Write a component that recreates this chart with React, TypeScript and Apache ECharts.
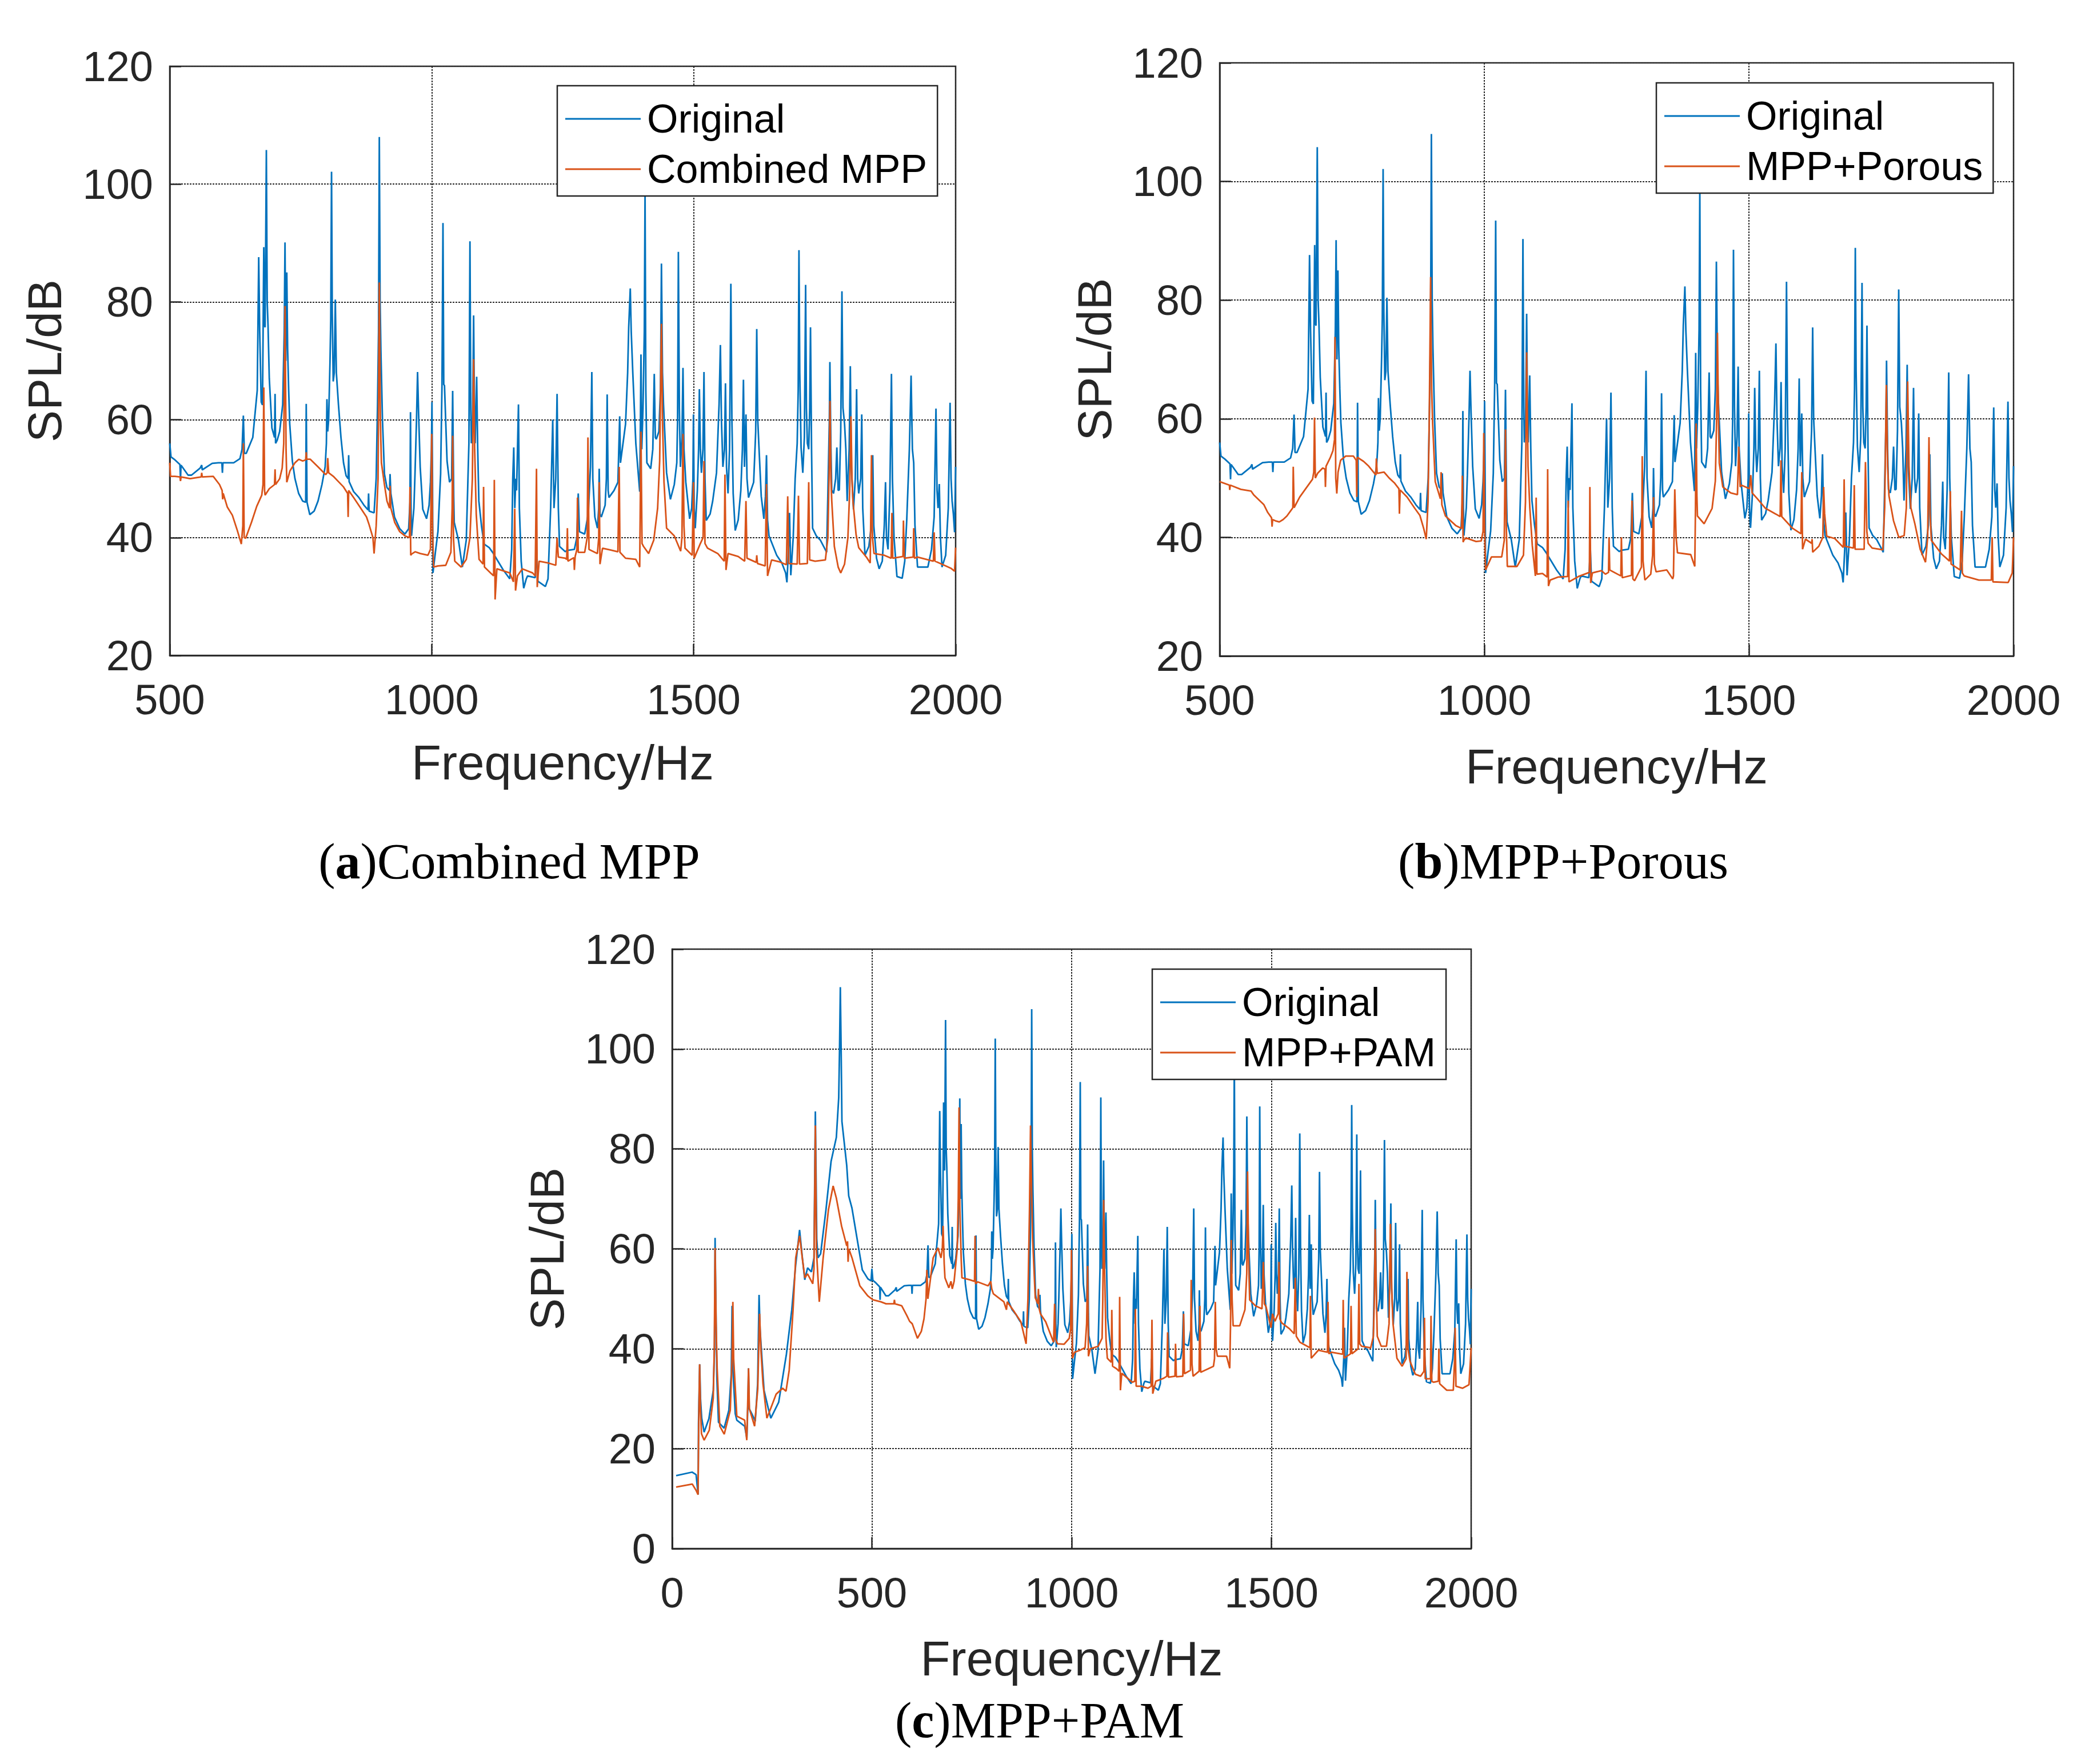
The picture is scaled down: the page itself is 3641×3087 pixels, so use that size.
import React, { useEffect, useRef } from 'react';
import * as echarts from 'echarts';

// ---------------- DATA (frequency Hz, SPL dB) ----------------
const ORIGINAL: [number, number][] = [
  [10,14.6],[50,15.3],[60,14.8],[65,10.8],[66,25],[67,29.3],[69,36.9],[71,30],[74,26.1],[80,23.3],[92,26],[103,31.7],[106,40],[107.5,62.2],[109,52],[112,34],[116,25.3],[130,24.1],[142,27.7],[148,35],[150,48.6],[152,36],[158,27],[162,25.7],[181.5,24.5],[187,22.1],[190,30],[191,36.1],[193,28],[200,26.9],[208,25.5],[214,33],[217.6,50.8],[220,44],[230,31.7],[240.5,28.1],[247,26.1],[266.7,29.3],[286,38.9],[299.5,47.8],[309,56.6],[319,63.8],[326,58.2],[332,53.8],[339,56.2],[348.6,55.4],[355,58.2],[358.5,87.5],[362,62],[365,58.2],[371.6,59],[385,67.8],[397.8,77.5],[411,82.3],[417,90.3],[419,100],[421,112.4],[423,100],[425,85.5],[437,76.7],[442,70.6],[450,68.2],[463,62],[476,55.8],[490,54],[498,53.6],
  [500,56],[502.4,53.7],[509.8,53.2],[519.5,52.4],[520.5,49.8],[521.5,52.3],[535,50.6],[541.5,50.6],[558,51.8],[561,52.3],[562,51.5],[581,52.6],[592.7,52.7],[599.5,52.7],[600.5,51],[601.5,52.7],[622,52.7],[634,53.4],[638,55],[640.5,60.7],[642.4,54.3],[646,54.3],[658.5,57],[667,65],[669.8,87.6],[671.7,75],[674.6,63],[677,62.5],[679.5,89.3],[681,76],[682,75.7],[684.4,105.8],[686,80],[687.6,76],[690,67],[695,58.6],[700,57],[701,64.4],[702,56],[705,56.5],[709.8,58],[715.6,62.6],[718.5,75],[720,90.1],[721.5,70],[723.4,85],[725,72],[727,65],[729,59.3],[734,53],[739,50],[746,47.5],[753.7,46.2],[759.5,46],[760.5,62.7],[762,46],[767.3,43.9],[775.6,44.5],[783,46.2],[790.5,49],[796.6,52],[799,56],[800,63.5],[801.5,58],[803.3,60],[805.9,70],[807.3,77],[808.8,102.1],[810.2,78],[812,66.5],[814,68],[816,80.4],[818,68],[822,62.6],[826.8,57],[831.7,52.7],[836.6,50.5],[840.5,50],[841.5,54],[842.4,49.5],[851,47.8],[861,46.8],[870.7,45.5],[878.5,44.7],[879.5,47.5],[880.5,44.5],[890,44.2],[894,50],[896.6,62.6],[898.5,75],[900,108],[901.5,80],[903,71.8],[906,60],[909.8,50.8],[914.6,48.5],[919.5,48],[920.5,50.8],[922,47.5],[929,43.5],[939,41.5],[948.8,40.6],[956,41.5],[958.5,46],[959.5,61.3],[960.5,45],[961.5,40.3],[966,45],[968,50.5],[971,60],[973,68.1],[975,61],[978,52],[983,44.8],[990.2,43.2],[995,45.5],[997.6,49.4],[999.5,55],[1000.5,63],[1001.5,50],[1002.4,34],[1007,37.5],[1012,41.1],[1017,50.8],[1019.6,65.8],[1021.5,93.4],[1023,66],[1024.4,65.8],[1029.3,53],[1034,49.4],[1038,50],[1040,64.9],[1042,47],[1043,42.6],[1051,39.6],[1058.5,35],[1066,39.6],[1071,56],[1073,90.3],[1074.6,62],[1075.6,56],[1078,59.3],[1080,77.7],[1081.5,62],[1083,56],[1085.8,67.3],[1087.8,55],[1090,46.2],[1095,42],[1100,38.9],[1109.8,38.3],[1117,37.4],[1124.4,36.3],[1136.6,34.5],[1149,33],[1152.7,38],[1154.7,50],[1156.6,55.3],[1158.6,45],[1160.5,50],[1162,48],[1165.6,62.6],[1167.3,45],[1170.8,36],[1175.6,31.4],[1180.5,33],[1183,33.5],[1197.5,33.2],[1200.4,38],[1202.6,32.6],[1217,31.7],[1222,33],[1227,45],[1231,60],[1233.4,45],[1236.8,50],[1239.3,64.4],[1241.7,45],[1244,38.5],[1255,37.6],[1257.7,37.8],[1272.3,38],[1277,40],[1279.7,47.5],[1282,41],[1284.5,40.9],[1292,40.6],[1299,44.2],[1303,52],[1305.6,68.1],[1307.5,50],[1311.4,43.5],[1316.3,41.6],[1318.8,45],[1319.7,51.7],[1321.2,44],[1323.7,43.5],[1331,45.5],[1333.4,50],[1334.9,64.3],[1336.8,48],[1338.3,46.8],[1348,48],[1355.4,49.4],[1358.8,60.6],[1360.3,52.7],[1370,59.3],[1374,68],[1376,75.7],[1379,82.3],[1380.8,75],[1383.8,68],[1389.6,56],[1397,47.8],[1398.4,60],[1399.4,71.1],[1400.9,55],[1403.3,62],[1405.8,75],[1407.2,98.7],[1408.7,65],[1410.7,52.7],[1418,51.7],[1422,55],[1424.8,67.8],[1426.8,57],[1428.7,56.7],[1433.6,58],[1436.6,65],[1438.5,86.5],[1440.5,68],[1442.4,62.6],[1448.3,51],[1455.6,46.5],[1463,49],[1467.8,52.7],[1469.3,60],[1470.8,88.5],[1472.7,62],[1474.7,52],[1477.6,57],[1479.6,68.8],[1481.5,55],[1485,49.4],[1492.3,43.2],[1496.2,45],[1498.6,50],[1499.6,60.9],[1501,45],[1503,41.6],[1507,48],[1509.4,55],[1510.9,65.2],[1512.8,55],[1514.8,51],[1517.7,55],[1519.7,68.1],[1521.6,50],[1524,42.9],[1531.4,44],[1536.3,46.2],[1543.6,51],[1548.5,62.6],[1551,72.7],[1553,60],[1555.8,52],[1558.8,55],[1560.7,66.2],[1562.7,52],[1565.6,47.5],[1568.5,55],[1571,83.1],[1573,60],[1575.4,47.5],[1579.3,41.2],[1585,43],[1590,48],[1593,55],[1595,66.8],[1597,52],[1599.8,60.9],[1601.8,50],[1604.7,46.8],[1614.5,49.4],[1618.4,58],[1620.4,75.4],[1622.3,60],[1624.3,56],[1629,47],[1634,43.2],[1637,47],[1639,54],[1641,43],[1643.8,40.3],[1658.5,37],[1668.3,35.7],[1675.6,34],[1678,32.4],[1681,38],[1683,44.2],[1685.4,33.6],[1690,40],[1693.7,50],[1697.6,56],[1699.5,65],[1701,88.8],[1702.5,68],[1705,55.3],[1708.3,51],[1711.3,57],[1713.7,82.9],[1715.2,62],[1717,56],[1719.6,55],[1721.5,62],[1723,75.7],[1725,55],[1727,41.6],[1734,40.3],[1741.6,39.6],[1751,38],[1753.8,37.5],[1756,46.8],[1759,60],[1760,69.8],[1762,55],[1763.6,48.1],[1767,47.5],[1771,50],[1773.3,55.3],[1775.8,48],[1778,48.1],[1780.7,58],[1783,81.8],[1785,62],[1788,59.3],[1790.5,55],[1793,46.2],[1796.8,55],[1799,69.1],[1801,52],[1805,44.8],[1808.5,50],[1811,65.2],[1813,50],[1815,47.5],[1818.8,50],[1820.8,60.9],[1822.7,45],[1827,37],[1834.4,38.5],[1839,42],[1841.8,54],[1843.8,42],[1849,36.5],[1854,34.7],[1860,36],[1863.8,42],[1866.2,49.4],[1868,40],[1871,38],[1874.5,48],[1877.5,67.8],[1879.4,50],[1882.4,40],[1888,33.4],[1898,33.1],[1902.9,36],[1906.8,43.2],[1911.7,55],[1915,67.5],[1917.5,55],[1920,52.7],[1922.4,42],[1927.3,35],[1937,35],[1947,35],[1954,38],[1959,43.5],[1962.5,61.9],[1964.5,48],[1966.4,45],[1968.8,49.1],[1971,40],[1974,35],[1981,37],[1986,45],[1989.4,62.9],[1991.3,50],[1993.3,46.2],[1995.7,44],[1998,40.9],[2000,52]
];

const COMBINED_MPP: [number, number][] = [
  [500,52.7],[501.5,50.4],[509.8,50.4],[519.5,50.3],[520.5,49.6],[521.5,50.3],[539,50],[560,50.3],[561,51],[562,50.3],[583,50.4],[595,49],[600,48],[601,46.5],[602,47.5],[609.8,45.2],[619.5,43.8],[629,41.2],[636.6,38.9],[639.5,42],[640.5,56],[642,40],[645,39.9],[656,42.6],[666,45.3],[675.6,47.2],[678,49],[679.5,65.5],[681,48],[682,47.2],[690,48.3],[700,49],[701,51.6],[702,49],[709.8,50],[714.6,51.8],[717.6,56],[720,79.3],[722,55],[723.4,49.4],[729.3,51.3],[739,52.7],[746.3,53.3],[753.7,53],[759.5,53.2],[760.5,54.5],[761.5,53.3],[768.3,53.3],[783,52],[797.6,50.7],[800.5,51],[801.5,53.5],[803.4,51],[812.2,50.4],[822,49.5],[831.7,48.6],[839.5,47.5],[840.5,43.5],[841.5,48],[851,46.8],[865.9,44.8],[875.6,43.5],[880.5,42.2],[887.8,40],[890,37.3],[894,42],[897.6,50],[900,83.3],[902,60],[904,52.7],[909.8,49],[914.6,46.2],[919.5,45],[920.5,48.8],[922,45],[929.3,42.6],[939,41],[948.8,40.3],[957.6,40],[958.5,48.6],[960,37],[961.5,37.2],[968.3,37.6],[978,37.3],[992.7,37],[997.6,38],[1000,57.6],[1001.5,42],[1003.5,35],[1012,35.2],[1026.8,35.3],[1036.6,37.5],[1039,45],[1040,57.3],[1041.5,40],[1044,36],[1056.3,35],[1066,36.3],[1073,40],[1077.6,50],[1080,70.3],[1082,55],[1085,44],[1090.4,36.3],[1098,35.5],[1099,48.6],[1100.7,35],[1112.4,34],[1118.2,33.5],[1119.5,49.8],[1121,29.5],[1124.4,34.7],[1149,34],[1156,32.5],[1158.5,44.9],[1160,31],[1163.6,33.5],[1173,34.7],[1192.6,34],[1197.5,33.5],[1200,51.7],[1201.4,31.6],[1205,36],[1222,35.7],[1236.8,35.3],[1239.3,40],[1241.7,36.7],[1255,36.5],[1257.7,36.3],[1259,41.6],[1260,36],[1271.4,36.6],[1272.3,34.5],[1273.8,36.8],[1277.2,38],[1278.2,46.8],[1279.7,37.5],[1292,37.5],[1296.8,40],[1298.2,57],[1300.2,38],[1316.3,37.3],[1318.8,40],[1319.7,49.4],[1321.2,35.5],[1326,38.2],[1340.8,37.9],[1355.4,37.6],[1357.9,52],[1359.3,37.5],[1370,36.5],[1389.6,36.3],[1397,35],[1399.4,58],[1401.4,39],[1404.3,38.5],[1414,37.3],[1423.9,39.6],[1431.2,45],[1435.1,53],[1438.5,76.3],[1440.5,60],[1443.4,49.4],[1448.3,41.6],[1463,40.3],[1475.2,37.7],[1477.6,40],[1479.6,57.6],[1481.5,42],[1483.5,38.2],[1497.2,37],[1499.6,49.4],[1501,36.5],[1511.8,38.8],[1518,40],[1519.7,53],[1521.6,39],[1526.5,38.2],[1546,37.3],[1558.3,36],[1559.7,50.7],[1561.7,34.5],[1565.6,37.3],[1585,36.8],[1597.4,36],[1599.8,46.2],[1601.8,36.5],[1619.4,35.8],[1620.4,37],[1621.8,35.6],[1636.5,35.2],[1639,49.1],[1641,33.5],[1648.7,36.2],[1663.4,35.9],[1677,35.4],[1679.5,47],[1681.5,35.6],[1697.6,35.5],[1700,47.1],[1702,35.5],[1717,35.6],[1719.6,49.4],[1721.5,36.2],[1731.8,36],[1751.4,36.2],[1756.2,40],[1758.7,52],[1760.2,63.2],[1762,50],[1763.6,46.2],[1768.5,38.5],[1775.8,35],[1780.7,34],[1788,35.5],[1794.4,40],[1797.8,48],[1800.2,60.6],[1802.2,50],[1804,46.2],[1810,40.5],[1815,38.3],[1829.6,36.7],[1837,35.7],[1839.4,54],[1841.3,40],[1844.2,37.3],[1863.8,37],[1877,36.5],[1878.4,44.2],[1880,36.5],[1899.5,36.8],[1900.4,42.9],[1902,36.5],[1919,36.7],[1920,41.6],[1921.4,36.5],[1927.3,36.7],[1957.6,36],[1959,40.9],[1960.6,36],[1976,35.4],[1991,34.8],[1998,34.3],[2000,38.3]
];

const MPP_POROUS: [number, number][] = [
  [500,49.4],[518.4,48.8],[519,48],[520,48.8],[540,48.1],[559.4,47.8],[564,47.2],[583.6,45.5],[590.8,44.2],[598,43.3],[599,41.8],[600,43],[605,42.8],[612.6,42.6],[619.8,43],[627,43.6],[636.7,44.8],[638.2,45],[639,51.9],[640.6,45],[651.2,46.8],[665.7,48.6],[675.4,49.8],[677.8,51],[679.2,60.2],[680.7,50],[685,50.8],[694.7,51.7],[699,51.5],[699.8,48.5],[701,52],[709.2,53.5],[714,54.6],[717,56.5],[717.9,73.8],[719.3,50],[721.3,47.4],[723.7,51],[728.5,53],[738.2,53.7],[752.7,53.7],[758,53],[759,46.8],[760,53.5],[772,52.8],[781.6,52],[795.2,50.5],[796,53.3],[797.6,50.8],[810.6,51],[820.3,50],[830,49.2],[838.7,48.2],[839.6,44],[841,48],[854,46.8],[868.6,44.9],[878.3,43.7],[885.5,41.5],[890.3,39.7],[893.7,46],[896,60],[898.6,83.9],[900.5,65],[902.4,59.2],[907.3,49.4],[917,46.5],[918.4,51],[919.8,45.5],[926.6,43.6],[946,42],[957,41.5],[958.5,50.4],[960,39.2],[961.3,39.5],[965.2,39.9],[984.5,39.3],[994.2,39.4],[997.6,41],[999,57.6],[1000.5,42],[1002.4,34.5],[1013.5,36.7],[1032.9,36.7],[1037.7,39.5],[1040,58.2],[1041.5,42],[1043.5,35.1],[1061.8,35.1],[1074,37],[1077.8,46],[1080,71.2],[1082.6,52],[1086,45],[1090.7,38.6],[1096.5,33.5],[1098,46.7],[1099.4,33.8],[1110,33.9],[1118.7,33.3],[1119.7,51.5],[1121.2,31.8],[1124.5,32.8],[1139,33.3],[1157.5,33.4],[1158.5,46.2],[1160,32.5],[1177.8,33.4],[1198.6,34.1],[1199.5,48.5],[1201,32.3],[1204.2,34],[1221.2,34.4],[1228.8,33.8],[1234.7,34.1],[1235.7,40],[1237,34.5],[1258,33.5],[1259,40],[1260.6,33.2],[1278,33.6],[1279,46.2],[1280.7,33],[1284,32.7],[1296.9,35],[1298.4,53.7],[1300,36],[1303.4,32.8],[1314.5,33.8],[1318,37],[1319.8,46.8],[1321.3,35.5],[1324.6,34.2],[1344.8,34.5],[1356,33],[1357.4,33.5],[1359.9,48.1],[1362.4,40],[1365,37.4],[1390,37.1],[1397.7,35.1],[1399,45],[1400.2,59.2],[1401.7,47],[1402.7,43.6],[1415.3,42.3],[1430.4,44.9],[1436.5,49.5],[1439,60],[1440.5,74.5],[1442.5,60],[1444,52.5],[1450.6,48.5],[1465.7,47.5],[1478.3,47.2],[1480.8,55.3],[1483.4,48.5],[1485.9,48.8],[1501,48.2],[1503.5,50.5],[1506,47.5],[1516,46.5],[1531.2,44.9],[1551.4,43.9],[1559,43.5],[1560.5,53],[1562,43.5],[1581.6,41.6],[1598.3,40.6],[1599.8,51],[1601.3,38],[1606.8,39.7],[1618.4,39],[1619.4,39.7],[1620.5,37.5],[1632,38.5],[1639.6,40],[1641.1,48.5],[1643,44],[1647,40.2],[1662.3,39.8],[1678.4,38.3],[1679.9,49.8],[1681.4,38.5],[1697.6,38.2],[1699,48.8],[1700.6,38],[1717.7,38],[1720.2,52.7],[1722.8,41],[1725.3,39],[1732.8,38.2],[1753,37.9],[1756.5,45],[1759.6,65.7],[1762,52],[1764.6,47],[1773.2,42.8],[1783.2,40],[1793.3,40.3],[1797.4,45],[1799.9,66.3],[1802.4,52],[1806,45],[1813.5,42.3],[1823.6,38],[1833.6,35.8],[1837.7,40],[1840.2,56.9],[1842.2,44],[1844.7,39.5],[1863.9,37.2],[1879,36],[1880.5,47.8],[1882,35.5],[1899.2,34.5],[1901.7,44.5],[1903.2,34],[1906.7,33.5],[1934.4,32.8],[1958,32.8],[1959.6,40],[1961,32.5],[1989.9,32.4],[1997.5,34],[2000,40]
];

const MPP_PAM: [number, number][] = [
  [10,12.3],[50.5,12.9],[60.3,11.6],[64.9,10.8],[66.2,22],[66.8,26],[68.8,36.9],[70.8,28],[73.4,23],[80,21.7],[93,23.7],[102.9,30.1],[105.5,40],[107.5,60.2],[110,45],[112.7,36],[119.3,24.5],[130.4,22.9],[145.5,27.7],[150,38],[152,49.4],[154,38],[161.9,26.5],[181.5,25.7],[186.8,21.7],[189.4,30],[191.3,36.1],[193.3,28],[206.4,24.5],[214.3,32],[218.9,47],[222,40],[227.4,33],[237.2,26.1],[247,28.1],[260.2,30.9],[276.5,32.1],[285,31.5],[293,35.7],[302.7,47.8],[309.3,58.2],[319.1,62.6],[325.7,58.2],[332.2,54.2],[338.8,55],[352,53],[355,56],[358.5,84.7],[361,60],[365,54.2],[368.3,49.4],[378,58.2],[391.2,67.8],[403,72.6],[410.9,70.2],[424,64.6],[437,60.6],[439,61.5],[440.4,57.4],[442.3,60],[450.2,58.2],[469.8,52.6],[489.5,50.6],[502.6,49.8],[522.3,49.4],[535.4,49],[555,49],[556.4,49.8],[557.7,49],[574.7,48.6],[587.8,46.6],[594.4,45.5],[601,45],[614,42.1],[623.8,43.5],[630.4,46],[635.6,50],[637.6,55.8],[640.2,50],[653.3,58.2],[665.1,60.2],[673,58.2],[676.3,60],[678.2,64.6],[681,57],[682.9,54.2],[692.6,52.2],[697.9,53.5],[701.2,52],[705.8,53.5],[713.6,60],[716.2,70],[718.2,88.3],[720.2,68],[723.5,58],[725.4,54.2],[745,53.8],[756.9,53.5],[758.2,62.6],[759.5,53],[764.7,53.4],[791,52.6],[797.5,53.5],[800,52],[804,51],[830.3,49.4],[836.8,47.8],[838.8,49.4],[856.5,47.4],[872.9,45.4],[886,41],[890.6,50],[894.5,68],[897.1,84.7],[899.7,72],[902.3,62],[908.9,50.2],[915.5,49],[916.8,52],[918.8,48],[922,47],[935,45.4],[954.8,41.3],[957.4,49],[959.4,42],[964.6,41],[981,40.9],[994,42.1],[997.5,44],[999.5,59.8],[1000.8,50],[1002,38.1],[1007.3,39.3],[1020.5,39.7],[1033.6,40.2],[1037.5,45],[1040,56.6],[1042,38.5],[1046.7,40],[1066.4,40.5],[1076.2,42.1],[1078,50],[1080.2,69.8],[1082.6,55],[1086,42],[1089.3,38.1],[1099.2,37.3],[1100.5,47.8],[1102.5,36.5],[1112.3,36],[1118.8,35.5],[1120.2,50.4],[1122.1,31.7],[1125.4,35.1],[1151.7,33.3],[1158.2,33.5],[1159.5,48],[1161.5,32.5],[1174.6,32.5],[1191,32.1],[1199,32.5],[1201,45.8],[1203,31],[1210.7,33.5],[1230.4,34.1],[1238.3,34.5],[1240.2,43.3],[1242.2,34.3],[1258.6,34.5],[1260,41],[1262,34.4],[1278.3,34.5],[1280.3,47],[1282.3,35],[1297.3,35.7],[1299.3,53.8],[1301.2,37],[1304,34.5],[1319,35.5],[1321,48.6],[1323,35.3],[1355,36.5],[1357.6,38],[1359.6,49.4],[1361.6,40],[1364.9,38.5],[1387.8,38.5],[1395.7,36.1],[1397.7,45],[1399.6,61.8],[1401.6,50],[1404.2,44.6],[1420.6,44.6],[1433.7,47.8],[1438.3,55],[1440.3,75.5],[1442.9,58],[1445.6,49.8],[1460,48.6],[1476.4,48],[1479.7,57.4],[1482.3,49],[1486.2,48.5],[1499.3,44.2],[1502.6,47],[1509,45.5],[1517,47],[1519,57.4],[1521,46],[1525.7,45.2],[1545.3,44],[1557,43],[1559.7,54.2],[1562.3,42.5],[1571.5,41.3],[1596.4,40.2],[1597.7,50.6],[1599.7,38.1],[1617.4,39.7],[1640.4,39.3],[1641.7,49.4],[1643.7,39],[1650.2,39.3],[1678.4,38.9],[1679.7,49.8],[1681.7,38.1],[1698.1,39],[1699.4,48.6],[1701.4,39],[1717.1,40],[1719.1,53],[1721,41],[1725.7,40.5],[1748.6,40.2],[1755.2,42.5],[1757.8,50],[1759.8,64],[1762.4,52],[1765,42.5],[1774.9,40.5],[1788,40.5],[1794.5,45],[1797.8,65],[1801.1,52],[1804.4,45],[1814.2,38.1],[1827.3,36.5],[1837.2,38],[1839.2,55.4],[1841.8,40],[1847,37.5],[1860.2,34.9],[1873.3,34.5],[1881.8,35.5],[1883.1,46.2],[1885.1,34],[1898.2,34],[1899.5,46.6],[1901.5,33.5],[1906,33.3],[1917.9,33.5],[1919.2,40],[1921.2,33],[1938.9,31.7],[1955.3,31.7],[1958.6,38],[1959.9,44.2],[1961.9,32.5],[1978.2,32.1],[1994.6,32.8],[2000,40.2]
];

// axis ranges / steps
const X_RANGE_AB = [500, 2000];
const X_RANGE_C = [0, 2000];
const Y_RANGE_AB = [20, 120];
const Y_RANGE_C = [0, 120];
const X_STEP = 500;
const Y_STEP = 20;

const SERIES_NAMES = ['Original', 'Combined MPP', 'MPP+Porous', 'MPP+PAM'];
const CAPTIONS = [
  { letter: 'a', rest: 'Combined MPP' },
  { letter: 'b', rest: 'MPP+Porous' },
  { letter: 'c', rest: 'MPP+PAM' },
];
const X_NAME = 'Frequency/Hz';
const Y_NAME = 'SPL/dB';

// ---------------- STYLE ----------------
const BLUE = '#0072BD';
const ORANGE = '#D95319';
const INK = '#262626';
const SANS = "'Liberation Sans', Arial, Helvetica, sans-serif";
const SERIF = "'Liberation Serif', 'Times New Roman', serif";

const GRIDS = [
  { left: 297, top: 116, width: 1375, height: 1031 },
  { left: 2134, top: 110, width: 1389, height: 1038 },
  { left: 1176, top: 1661, width: 1398, height: 1049 },
];
const X_NAME_GAP = [145, 151, 150];
const LEGEND_POS = [
  { left: 975, top: 150 },
  { left: 2898, top: 145 },
  { left: 2016, top: 1696 },
];
const CAPTION_POS = [
  { x: 891, y: 1507 },
  { x: 2735, y: 1507 },
  { x: 1819, y: 3010 },
];

const GRID_LINE = { color: '#2a2a2a', width: 2, type: [3, 2] };

function makeX(i: number, range: number[]) {
  return {
    type: 'value',
    gridIndex: i,
    min: range[0],
    max: range[1],
    interval: X_STEP,
    name: X_NAME,
    nameLocation: 'middle',
    nameGap: X_NAME_GAP[i],
    nameTextStyle: { fontSize: 85, fontFamily: SANS, color: INK },
    axisLine: { show: true, onZero: false, lineStyle: { color: INK, width: 2.5 } },
    axisTick: { show: true, inside: true, length: 20, lineStyle: { color: INK, width: 2.5 } },
    axisLabel: {
      fontSize: 74, fontFamily: SANS, color: INK, margin: 40,
      showMinLabel: true, showMaxLabel: true,
      formatter: (v: number) => String(v),
    },
    splitLine: { show: true, lineStyle: GRID_LINE },
  };
}

function makeY(i: number, range: number[]) {
  return {
    type: 'value',
    gridIndex: i,
    min: range[0],
    max: range[1],
    interval: Y_STEP,
    name: Y_NAME,
    nameLocation: 'middle',
    nameRotate: 90,
    nameGap: 177,
    nameTextStyle: { fontSize: 84, fontFamily: SANS, color: INK },
    axisLine: { show: true, onZero: false, lineStyle: { color: INK, width: 2.5 } },
    axisTick: { show: true, inside: true, length: 20, lineStyle: { color: INK, width: 2.5 } },
    axisLabel: {
      fontSize: 74, fontFamily: SANS, color: INK, margin: 29, padding: [12, 0, 0, 0],
      showMinLabel: true, showMaxLabel: true,
      formatter: (v: number) => String(v),
    },
    splitLine: { show: true, lineStyle: GRID_LINE },
  };
}

function line(name: string, idx: number, data: [number, number][], color: string, z: number) {
  return {
    type: 'line',
    name,
    xAxisIndex: idx,
    yAxisIndex: idx,
    data,
    showSymbol: false,
    symbol: 'none',
    clip: true,
    silent: true,
    z,
    lineStyle: { width: 2.8, color },
    itemStyle: { color },
    emphasis: { disabled: true },
  };
}

function makeLegend(i: number, names: string[]) {
  return {
    ...LEGEND_POS[i],
    orient: 'vertical',
    data: names.map((n) => ({ name: n, icon: 'rect' })),
    selectedMode: false,
    itemWidth: 132,
    itemHeight: 3,
    itemGap: 18,
    padding: [23, 18, 12, 14],
    backgroundColor: '#ffffff',
    borderColor: INK,
    borderWidth: 2.5,
    borderRadius: 0,
    textStyle: { fontSize: 70, fontFamily: SANS, color: '#000', lineHeight: 70, padding: [0, 0, 0, 6] },
  };
}

function makeCaption(i: number) {
  const c = CAPTIONS[i];
  return {
    type: 'text',
    x: CAPTION_POS[i].x,
    y: CAPTION_POS[i].y,
    silent: true,
    style: {
      text: `{n|(}{b|${c.letter}}{n|)${c.rest}}`,
      align: 'center',
      verticalAlign: 'middle',
      rich: {
        n: { fontFamily: SERIF, fontSize: 88, fill: '#000' },
        b: { fontFamily: SERIF, fontSize: 88, fontWeight: 'bold', fill: '#000' },
      },
    },
  };
}

export default function App() {
  const ref = useRef<HTMLDivElement>(null);

  useEffect(() => {
    document.body.style.margin = '0';
    document.documentElement.style.overflow = 'hidden';
    if (!ref.current) return;
    const chart = echarts.init(ref.current, undefined, { renderer: 'svg' });
    const origAB = ORIGINAL.filter((p) => p[0] >= X_RANGE_AB[0]);
    const option: any = {
      animation: false,
      backgroundColor: '#ffffff',
      grid: GRIDS.map((g) => ({
        ...g,
        show: true,
        borderColor: INK,
        borderWidth: 2.5,
        backgroundColor: 'transparent',
        containLabel: false,
      })),
      xAxis: [makeX(0, X_RANGE_AB), makeX(1, X_RANGE_AB), makeX(2, X_RANGE_C)],
      yAxis: [makeY(0, Y_RANGE_AB), makeY(1, Y_RANGE_AB), makeY(2, Y_RANGE_C)],
      legend: [
        makeLegend(0, [SERIES_NAMES[0], SERIES_NAMES[1]]),
        makeLegend(1, [SERIES_NAMES[0], SERIES_NAMES[2]]),
        makeLegend(2, [SERIES_NAMES[0], SERIES_NAMES[3]]),
      ],
      series: [
        line(SERIES_NAMES[0], 0, origAB, BLUE, 2),
        line(SERIES_NAMES[1], 0, COMBINED_MPP, ORANGE, 3),
        line(SERIES_NAMES[0], 1, origAB, BLUE, 2),
        line(SERIES_NAMES[2], 1, MPP_POROUS, ORANGE, 3),
        line(SERIES_NAMES[0], 2, ORIGINAL, BLUE, 2),
        line(SERIES_NAMES[3], 2, MPP_PAM, ORANGE, 3),
      ],
      graphic: [makeCaption(0), makeCaption(1), makeCaption(2)],
    };
    chart.setOption(option);
    return () => {
      chart.dispose();
    };
  }, []);

  return <div ref={ref} style={{ width: 3641, height: 3087 }} />;
}
